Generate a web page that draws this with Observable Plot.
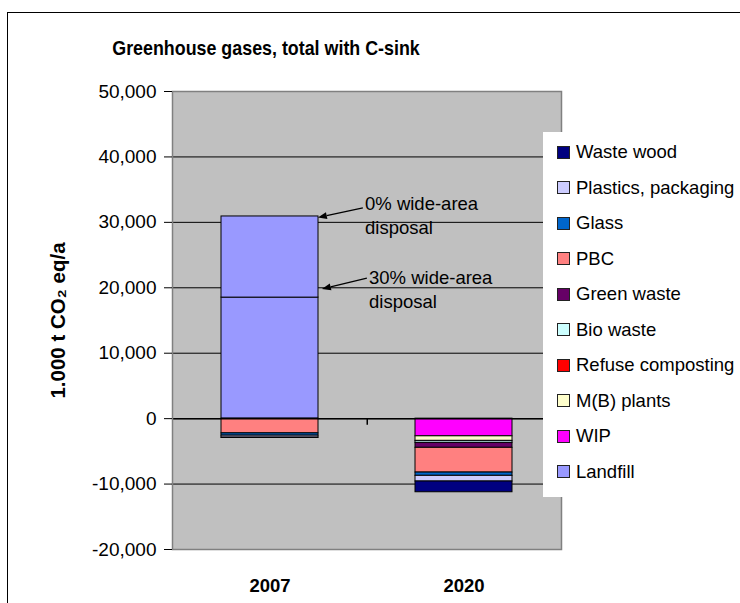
<!DOCTYPE html>
<html>
<head>
<meta charset="utf-8">
<script src="https://cdn.jsdelivr.net/npm/d3@7"></script>
<script src="https://cdn.jsdelivr.net/npm/@observablehq/plot@0.6"></script>
<style>
  html, body { margin: 0; padding: 0; background: #fff; }
  #wrap { position: relative; width: 740px; height: 603px; overflow: hidden; background: #fff;
          font-family: "Liberation Sans", Arial, sans-serif; color: #000; }
  #border { position: absolute; left: 7px; top: 12px; width: 800px; height: 700px; border: 1px solid #000; box-sizing: border-box; }
  #chart { position: absolute; left: 0; top: 0; }
  #title { position: absolute; left: 0; top: 37px; width: 532px; text-align: center; font-weight: bold; font-size: 21px; line-height: 1; transform: scaleX(0.85); transform-origin: 266px 0; }
  #legend { position: absolute; left: 543px; top: 132px; width: 210px; height: 365px; background: #fff; }
  .item { position: absolute; left: 14px; height: 20px; display: flex; align-items: center; font-size: 18.5px; white-space: nowrap; }
  .sw { width: 11px; height: 11px; border: 1px solid #222; margin-right: 6px; flex: none; }
</style>
</head>
<body>
<div id="wrap">
  <div id="border"></div>
  <div id="chart"></div>
  <div id="title">Greenhouse gases, total with C-sink</div>
  <div id="legend"></div>
</div>
<script>
// ---- data ----
const categories = ["2007", "2020"];
// stacking order (first = nearest the zero line)
const series = ["Landfill", "Landfill (0% wide-area increment)", "WIP", "M(B) plants", "Refuse composting",
                "Bio waste", "Green waste", "PBC", "Glass", "Plastics, packaging", "Waste wood"];
const values2007 = [18500, 12400, 0, 0, 0, 0, 0, -2250, -350, -300, -50];
const values2020 = [0, 0, -2700, -700, 0, -300, -760, -3780, -500, -870, -1640];
const seriesColors = ["#9999FF", "#9999FF", "#FF00FF", "#FFFFCC", "#FF0000",
                      "#CCFFFF", "#660066", "#FF8080", "#0066CC", "#CCCCFF", "#000080"];
const legendSeries = ["Waste wood", "Plastics, packaging", "Glass", "PBC", "Green waste",
                      "Bio waste", "Refuse composting", "M(B) plants", "WIP", "Landfill"];
const yTicks = [-20000, -10000, 0, 10000, 20000, 30000, 40000, 50000];
const annotationLabels = ["0% wide-area\ndisposal", "30% wide-area\ndisposal"];
const annotationValues = [30900, 18500];
const annotationCategory = "2007";
const yLabel = "1.000 t CO\u2082 eq/a";

// ---- build table ----
const valuesByYear = {"2007": values2007, "2020": values2020};
const table = categories.flatMap(c => series.map((s, i) => ({year: c, series: s, value: valuesByYear[c][i]})))
  .filter(d => d.value !== 0);

const W = 740, H = 603, mL = 172, mR = 179, mT = 91, mB = 54;
const fmt = d3.format(",");
const tickFmt = d => fmt(d).replace("\u2212", "-");

const plot = Plot.plot({
  width: W, height: H,
  marginLeft: mL, marginRight: mR, marginTop: mT, marginBottom: mB,
  style: {fontFamily: '"Liberation Sans", Arial, sans-serif', fontSize: "17px", color: "#000", background: "transparent", overflow: "visible"},
  x: {domain: categories, paddingInner: 0.5, paddingOuter: 0.25},
  y: {domain: [yTicks[0], yTicks[yTicks.length - 1]]},
  color: {domain: series, range: seriesColors},
  marks: [
    Plot.frame({fill: "#C0C0C0"}),
    Plot.ruleY(yTicks.slice(1, -1), {stroke: "#000", strokeWidth: 1}),
    Plot.barY(table, {x: "year", y: "value", fill: "series", stroke: "#000", strokeWidth: 1, order: series}),
    Plot.ruleY([0], {stroke: "#000", strokeWidth: 1.5}),
    Plot.ruleX([categories[0]], {x: d => d, y1: 0, y2: -1000, dx: (W - mL - mR) / 4, stroke: "#000", strokeWidth: 1.5}),
    Plot.frame({stroke: "#808080", strokeWidth: 1.5}),
    Plot.axisY({ticks: yTicks, tickSize: 8, tickPadding: 8, tickFormat: tickFmt, label: null, fontSize: 19, stroke: "#000", style: {letterSpacing: "1.3px"}}),
    Plot.axisX({tickSize: 0, tickPadding: 29, label: null, fontSize: 18.5, fontWeight: "bold"}),
    Plot.text([yLabel], {frameAnchor: "left", textAnchor: "middle", dx: -114, rotate: -90, fontWeight: "bold", fontSize: 20.5, text: d => d}),
    Plot.text([annotationLabels[0]], {x: () => annotationCategory, y: () => annotationValues[0], text: d => d, textAnchor: "start", lineAnchor: "top", dx: 95, dy: -23, fontSize: 18.5, lineHeight: 1.27}),
    Plot.text([annotationLabels[1]], {x: () => annotationCategory, y: () => annotationValues[1], text: d => d, textAnchor: "start", lineAnchor: "top", dx: 99, dy: -30, fontSize: 18.5, lineHeight: 1.27})
  ]
});
document.getElementById("chart").appendChild(plot);

// ---- arrows, positioned through the plot's scales ----
const xs = plot.scale("x"), ys = plot.scale("y");
const xScale = d3.scaleBand(xs.domain, xs.range).paddingInner(0.5).paddingOuter(0.25);
const yScale = d3.scaleLinear(ys.domain, ys.range);
const barRight = xScale(annotationCategory) + xScale.bandwidth();
const arrowOffsets = [ {tip: [0, 1.5], start: [45, -8]}, {tip: [4, -8], start: [49, -19]} ];
const svg = d3.select(plot);
annotationValues.forEach((v, i) => {
  const yv = yScale(v), o = arrowOffsets[i];
  const tx = barRight + o.tip[0], ty = yv + o.tip[1];
  const sx = barRight + o.start[0], sy = yv + o.start[1];
  const ang = Math.atan2(ty - sy, tx - sx), L = 9, Wd = 3.5;
  const bx = tx - L * Math.cos(ang), by = ty - L * Math.sin(ang);
  svg.append("line").attr("x1", sx).attr("y1", sy).attr("x2", bx).attr("y2", by).attr("stroke", "#000").attr("stroke-width", 1.3);
  svg.append("path").attr("d", `M${tx},${ty}L${bx - Wd * Math.sin(ang)},${by + Wd * Math.cos(ang)}L${bx + Wd * Math.sin(ang)},${by - Wd * Math.cos(ang)}Z`).attr("fill", "#000");
});

// ---- legend ----
const legend = document.getElementById("legend");
legendSeries.forEach((s, i) => {
  const it = document.createElement("div");
  it.className = "item";
  it.style.top = (152 - 132 - 10 + i * 35.5) + "px";
  const sw = document.createElement("span");
  sw.className = "sw";
  sw.style.background = seriesColors[series.indexOf(s)];
  const tx = document.createElement("span");
  tx.textContent = s;
  it.appendChild(sw); it.appendChild(tx);
  legend.appendChild(it);
});
</script>
</body>
</html>
